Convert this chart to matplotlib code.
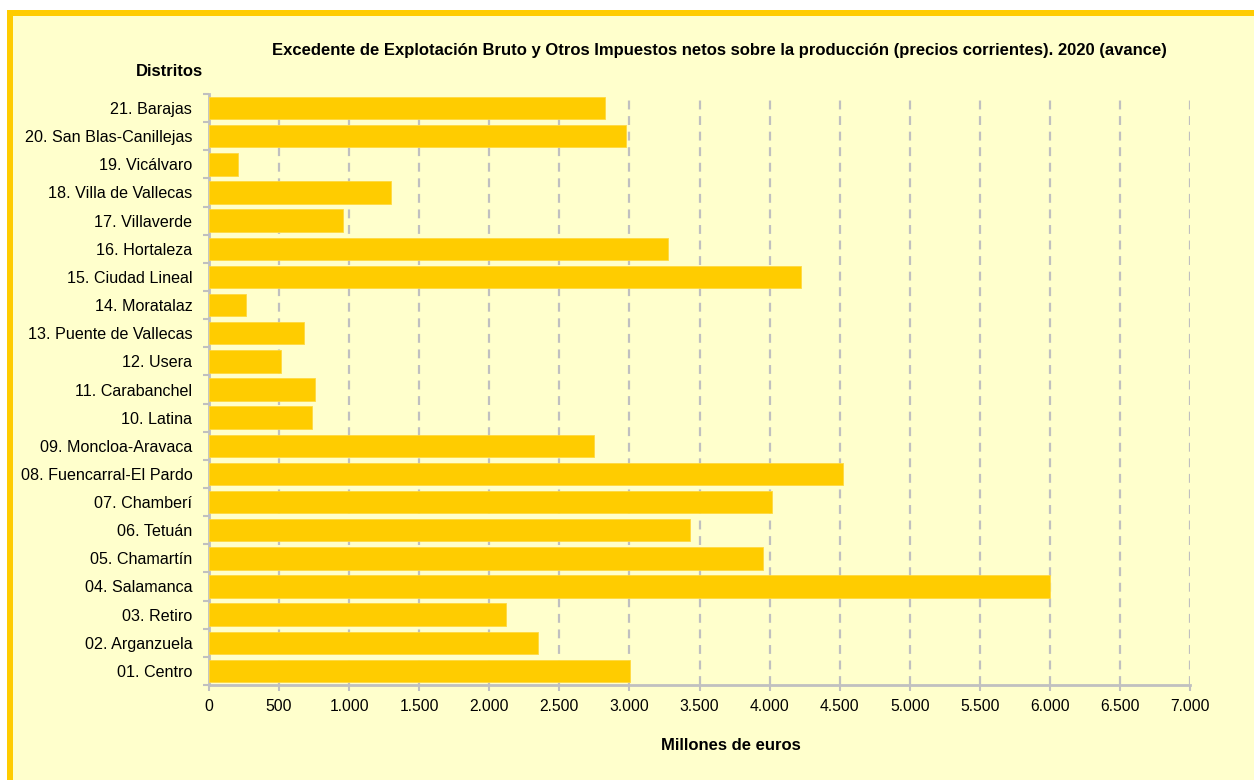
import matplotlib
matplotlib.use("Agg")
import matplotlib.pyplot as plt
from matplotlib.patches import Rectangle
from matplotlib.ticker import FuncFormatter, FixedLocator

# Data, districts 01 -> 21
distritos = [
    "01. Centro", "02. Arganzuela", "03. Retiro", "04. Salamanca",
    "05. Chamartín", "06. Tetuán", "07. Chamberí", "08. Fuencarral-El Pardo",
    "09. Moncloa-Aravaca", "10. Latina", "11. Carabanchel", "12. Usera",
    "13. Puente de Vallecas", "14. Moratalaz", "15. Ciudad Lineal",
    "16. Hortaleza", "17. Villaverde", "18. Villa de Vallecas",
    "19. Vicálvaro", "20. San Blas-Canillejas", "21. Barajas",
]
valores = [
    3003, 2347, 2116, 6002, 3954, 3431, 4016, 4524, 2746, 735, 756,
    514, 675, 264, 4225, 3274, 956, 1296, 205, 2974, 2825,
]
x_ticks = list(range(0, 7001, 500))

title = ("Excedente de Explotación Bruto y Otros Impuestos netos sobre la "
         "producción (precios corrientes). 2020 (avance)")

plt.rcParams["font.family"] = ["Liberation Sans", "DejaVu Sans"]

BG = "#FFFFCC"
BAR = "#FFCC00"
GRID = "#C0C0C0"

W, H = 1254, 780
fig = plt.figure(figsize=(W / 100, H / 100), dpi=100, facecolor="white")

# orange frame (only top and left edges visible, rest cropped)
frame = Rectangle((10 / W, -0.2), 2.0, (H - 13) / H + 0.2,
                  transform=fig.transFigure, facecolor=BG, edgecolor=BAR,
                  linewidth=6 * 72 / 100, zorder=-5)
fig.patches.append(frame)

ax = fig.add_axes([209 / W, 1 - 685 / H, (1190 - 209) / W, (685 - 94) / H])
ax.set_zorder(5)
ax.set_facecolor(BG)

y = list(range(len(distritos)))
ax.barh(y, valores, height=0.8, color=BAR, edgecolor="#FFD940",
        linewidth=0.6, zorder=3)

ax.set_xlim(0, 7000)
ax.set_ylim(-0.5, len(distritos) - 0.5)

ax.set_xticks(x_ticks)
ax.xaxis.set_major_formatter(FuncFormatter(lambda v, p: f"{int(v):,}".replace(",", ".")))
ax.set_yticks(y)
ax.set_yticklabels(distritos)
ax.yaxis.set_minor_locator(FixedLocator([i - 0.5 for i in range(len(distritos) + 1)]))

ax.tick_params(axis="y", which="major", length=0, pad=12, labelsize=11.6, colors="black")
ax.tick_params(axis="y", which="minor", length=4, width=1.5, color=GRID)
ax.tick_params(axis="x", which="major", length=4, width=1.5, color=GRID,
               labelsize=11.3, pad=6)

ax.set_axisbelow(True)
ax.grid(axis="x", color=GRID, linestyle=(0, (4, 3)), linewidth=1.6)

for side in ["top", "right"]:
    ax.spines[side].set_visible(False)
for side in ["left", "bottom"]:
    ax.spines[side].set_color(GRID)
    ax.spines[side].set_linewidth(2)

fig.text(719 / W, 1 - 50 / H, title, ha="center", va="center",
         fontsize=12, fontweight="bold")
fig.text(203 / W, 1 - 72 / H, "Distritos", ha="right", va="center",
         fontsize=12, fontweight="bold")
fig.text(731 / W, 1 - 745 / H, "Millones de euros", ha="center", va="center",
         fontsize=12, fontweight="bold")

fig.savefig("out.png", dpi=100, facecolor="white")
